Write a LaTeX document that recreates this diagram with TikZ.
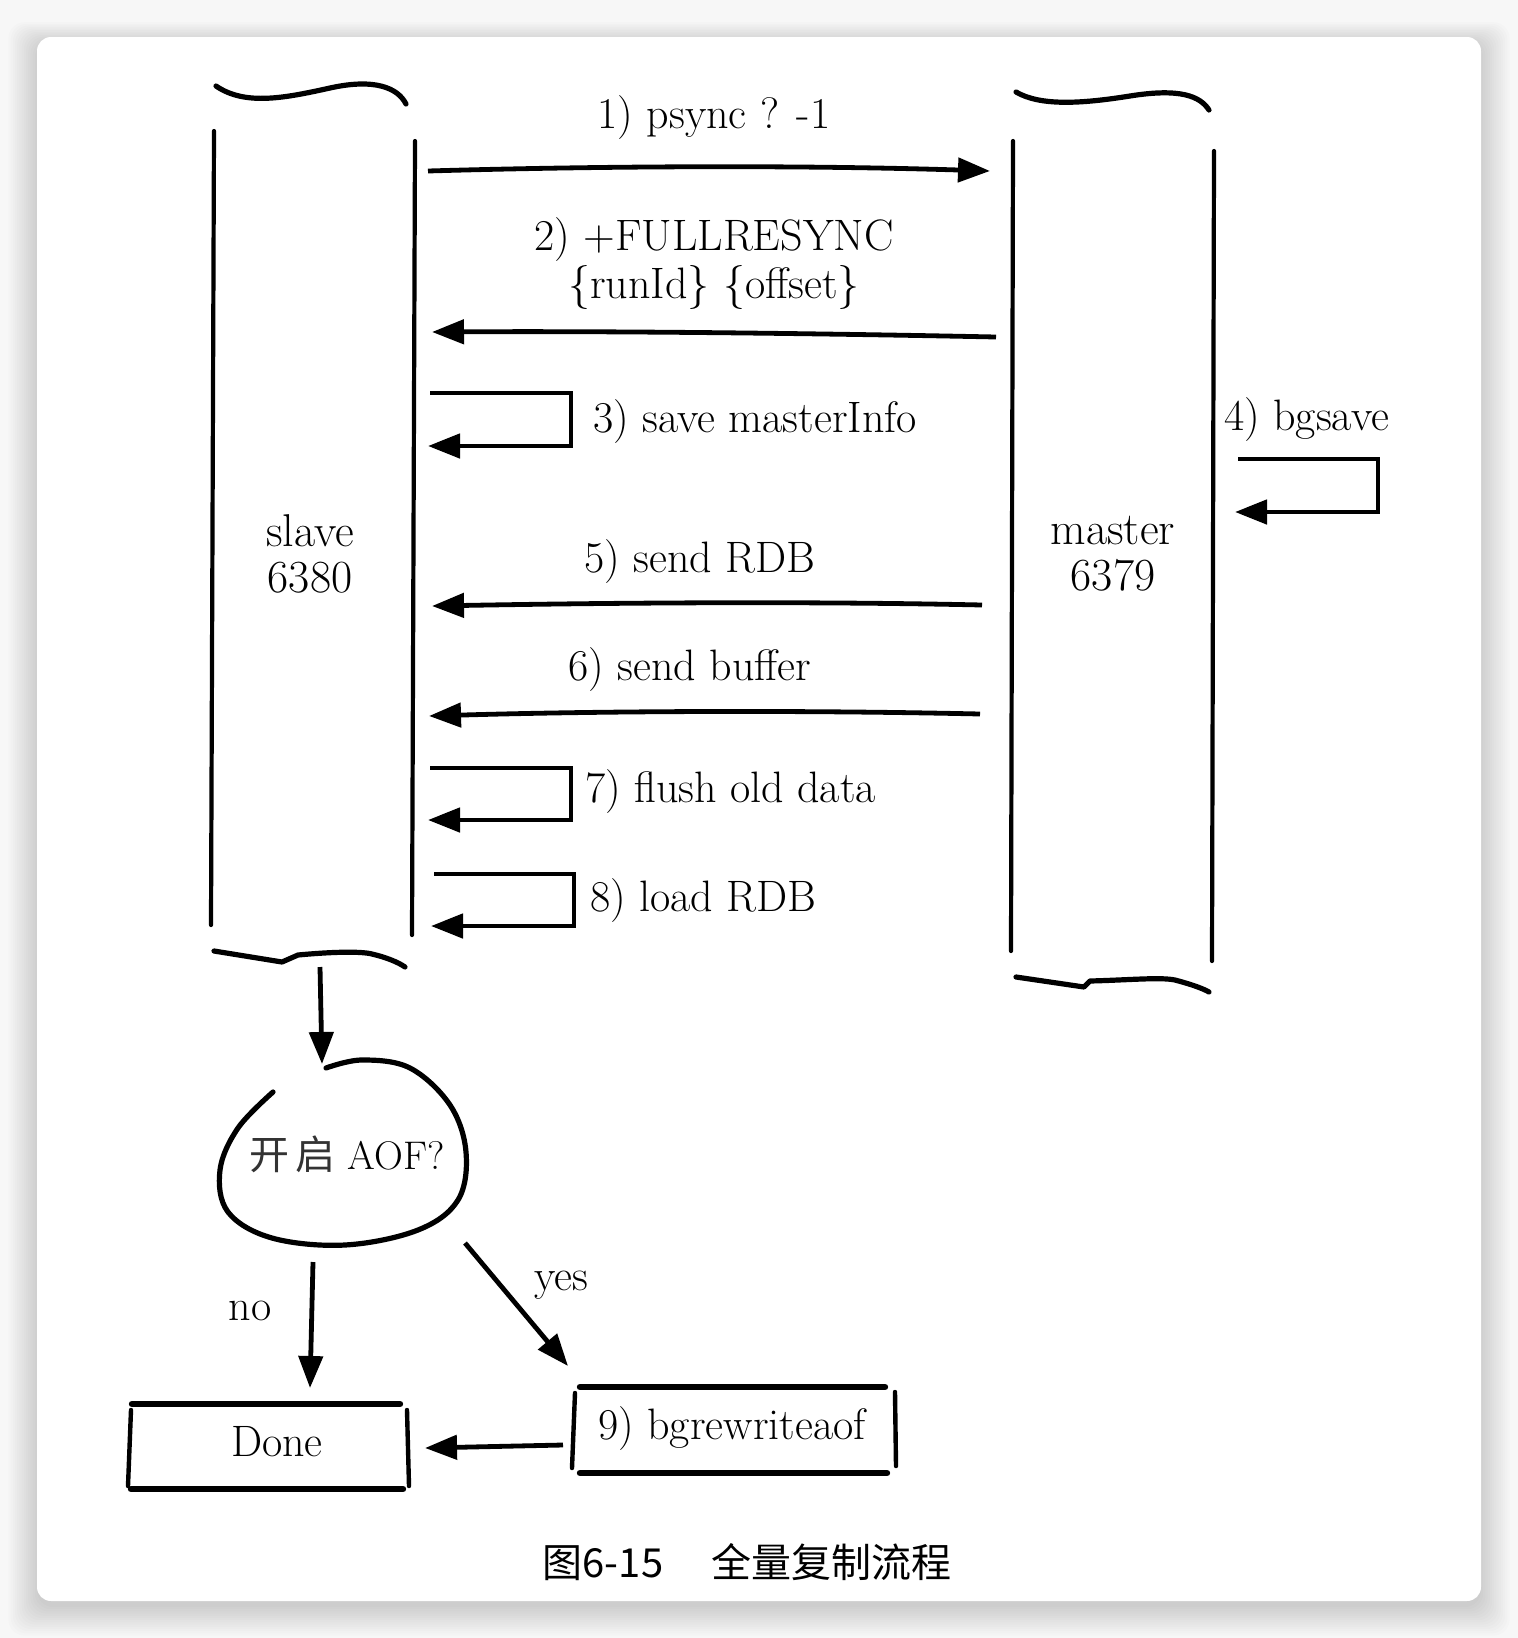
\documentclass[tikz,border=0pt]{standalone}
\usepackage{fontspec}
\newfontfamily\cjk{Noto Sans CJK SC}
\usetikzlibrary{arrows.meta}
\begin{document}
\begin{tikzpicture}[x=0.5pt,y=-0.5pt,
  col/.style={line width=2.1pt, line cap=round},
  brace/.style={line width=2.6pt, line cap=round, line join=round},
  msg/.style={line width=2.4pt, -{Triangle[length=16pt,width=12pt]}},
  loopy/.style={line width=2.4pt, -{Triangle[length=16pt,width=12pt]}},
  lbl/.style={font=\fontsize{22}{24}\selectfont, inner sep=0pt, align=center},
  big/.style={font=\fontsize{23}{23}\selectfont, inner sep=0pt, align=center},
  hedge/.style={line width=3.2pt, line cap=round},
  vedge/.style={line width=2.2pt, line cap=round},
  blob/.style={line width=2.6pt, line cap=round}]
\useasboundingbox (0,0) rectangle (1518,1638);
% background and card shadow
\fill[black!3] (0,0) rectangle (1518,1638);
\foreach \i in {0,...,13} {
  \fill[black, opacity=0.013, rounded corners=8pt]
    (37-\i*2.2,37-\i*1.6+6) rectangle (1481+\i*2.2,1601+\i*2.2+6);
}
\fill[white, rounded corners=7pt] (37,37) rectangle (1481,1601);

% slave column
\draw[col] (214,131) -- (211,925);
\draw[col] (415,141) -- (412,935);
\draw[brace] (216,86) .. controls (245,106) and (285,98) .. (330,88)
  .. controls (375,78) and (398,88) .. (406,104);
\draw[brace] (214,951) -- (282,962) -- (298,955) .. controls (330,952) and (360,951) .. (372,954)
  .. controls (385,957) and (398,962) .. (405,967);
\node[big] (slave) at (310,554) {slave\\6380};

% master column
\draw[col] (1013,141) -- (1011,951);
\draw[col] (1214,151) -- (1212,961);
\draw[brace] (1016,92) .. controls (1040,106) and (1080,104) .. (1130,96)
  .. controls (1180,88) and (1200,96) .. (1209,110);
\draw[brace] (1016,977) -- (1084,987) -- (1090,981) .. controls (1130,980) and (1160,977) .. (1175,980)
  .. controls (1190,984) and (1202,988) .. (1209,992);
\node[big] (master) at (1113,554) {master\\6379};

% 1) psync
\coordinate (s1) at (428,171);
\coordinate (m1) at (990,171);
\draw[msg] (s1) .. controls (600,166) and (800,165) .. (m1);
\node[lbl] (t1) at (714,118) {1) psync ? -1};

% 2) FULLRESYNC
\coordinate (m2) at (996,337);
\coordinate (s2) at (432,332);
\draw[msg] (m2) .. controls (800,333) and (600,331) .. (s2);
\node[lbl] (t2) at (714,264) {2) +FULLRESYNC\\\{runId\} \{offset\}};

% 3) save masterInfo
\coordinate (a3) at (430,393);
\coordinate (b3) at (571,393);
\coordinate (c3) at (571,446);
\coordinate (d3) at (428,446);
\draw[loopy] (a3) -- (b3) -- (c3) -- (d3);
\node[lbl, anchor=west] (t3) at (593,422) {3) save masterInfo};

% 4) bgsave
\coordinate (a4) at (1238,459);
\coordinate (b4) at (1378,459);
\coordinate (c4) at (1378,512);
\coordinate (d4) at (1235,512);
\draw[loopy] (a4) -- (b4) -- (c4) -- (d4);
\node[lbl, anchor=west] (t4) at (1224,420) {4) bgsave};

% 5) send RDB
\coordinate (m5) at (982,605);
\coordinate (s5) at (432,606);
\draw[msg] (m5) .. controls (800,601) and (600,603) .. (s5);
\node[lbl] (t5) at (700,562) {5) send RDB};

% 6) send buffer
\coordinate (m6) at (980,714);
\coordinate (s6) at (429,716);
\draw[msg] (m6) .. controls (800,710) and (600,711) .. (s6);
\node[lbl] (t6) at (690,670) {6) send buffer};

% 7) flush old data
\coordinate (a7) at (430,768);
\coordinate (b7) at (571,768);
\coordinate (c7) at (571,820);
\coordinate (d7) at (428,820);
\draw[loopy] (a7) -- (b7) -- (c7) -- (d7);
\node[lbl, anchor=west] (t7) at (585,792) {7) flush old data};

% 8) load RDB
\coordinate (a8) at (434,874);
\coordinate (b8) at (574,874);
\coordinate (c8) at (574,926);
\coordinate (d8) at (431,926);
\draw[loopy] (a8) -- (b8) -- (c8) -- (d8);
\node[lbl, anchor=west] (t8) at (590,901) {8) load RDB};

% slave -> AOF?
\coordinate (sb) at (320,967);
\node[font=\fontsize{20}{22}\selectfont, inner sep=0pt] (aof) at (347,1154) {{\cjk\color{black!80} 开}\,{\cjk\color{black!80} 启}\ AOF?};
\coordinate (aoftop) at (322,1064);
\draw[msg] (sb) -- (aoftop);
\draw[blob] plot[smooth, tension=0.6] coordinates {
  (326,1068) (362,1060) (410,1068) (450,1105) (466,1152) (458,1200)
  (418,1230) (345,1245) (272,1238) (228,1212) (220,1170) (238,1128) (273,1092)};

% Done / bgrewriteaof boxes
\node[lbl] (done) at (277,1442) {Done};
\draw[hedge] (132,1404) -- (400,1404);
\draw[hedge] (131,1489) -- (403,1489);
\draw[vedge] (131,1410) -- (128,1486);
\draw[vedge] (407,1410) -- (409,1486);

\node[lbl] (bgr) at (732,1429) {9) bgrewriteaof};
\draw[hedge] (580,1387) -- (885,1387);
\draw[hedge] (580,1473) -- (887,1473);
\draw[vedge] (575,1393) -- (572,1468);
\draw[vedge] (895,1392) -- (896,1466);

% no / yes
\coordinate (no1) at (313,1262);
\coordinate (no2) at (310,1388);
\draw[msg] (no1) -- (no2);
\node[lbl] (tno) at (250,1311) {no};
\coordinate (yes1) at (465,1243);
\coordinate (yes2) at (568,1366);
\draw[msg] (yes1) -- (yes2);
\node[lbl] (tyes) at (561,1285) {yes};

% bgrewriteaof -> Done
\coordinate (bl) at (563,1445);
\coordinate (dr) at (425,1448);
\draw[msg] (bl) -- (dr);

% caption
\node[font=\cjk\fontsize{20}{22}\selectfont, inner sep=0pt] (cap) at (747,1562) {图6-15\hspace{1.2em}全量复制流程};
\end{tikzpicture}
\end{document}
